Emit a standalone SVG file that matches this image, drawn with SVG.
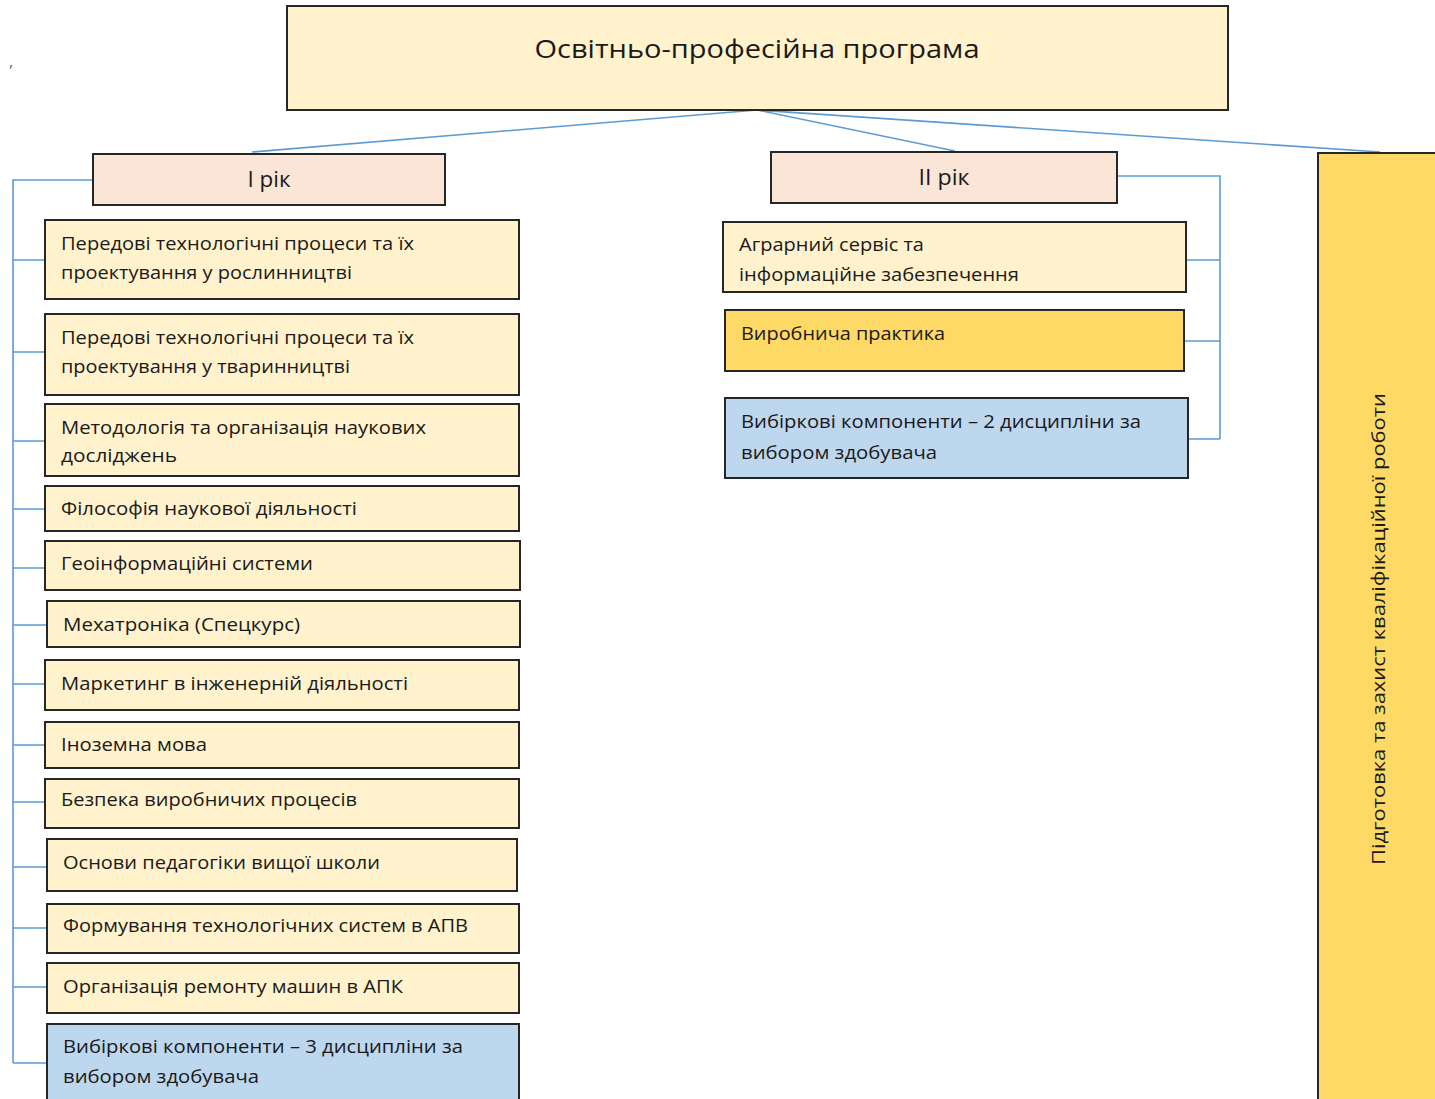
<svg xmlns="http://www.w3.org/2000/svg" width="1435" height="1099" viewBox="0 0 1435 1099">
<style>
.box{stroke:#262626;stroke-width:2}
.y{fill:#FFF2CC}.p{fill:#FBE5D6}.g{fill:#FFD966}.b{fill:#BDD7EE}
text{font-family:"Open Sans","Noto Sans","Liberation Sans",sans-serif;font-size:18px;fill:#1a1a1a}
.t{font-size:26px}
.yr{font-size:22px}
.c{fill:none;stroke:#5B9BD5;stroke-width:1.6}
</style>
<rect width="1435" height="1099" fill="#ffffff"/>
<text x="9" y="67" style="font-size:16px;fill:#8a6030">,</text>
<g id="connectors">
<path class="c" d="M757 110 L252 152 M757 110 L955 151 M757 110 L1380 152"/>
<path class="c" d="M93 180 H13 V1063 M13 260 H45 M13 352 H45 M13 441 H45 M13 509 H45 M13 568 H45 M13 625 H47 M13 684 H45 M13 745 H45 M13 802 H45 M13 867 H47 M13 928 H47 M13 987 H47 M13 1063 H47"/>
<path class="c" d="M1117 176 H1220 V439 M1186 260 H1220 M1184 341 H1220 M1188 439 H1220"/>
</g>
<g id="root"><rect class="box y" x="287" y="6" width="941" height="104"/><text class="t" x="757" y="58" text-anchor="middle" textLength="445" lengthAdjust="spacingAndGlyphs">Освітньо-професійна програма</text></g>
<g id="year1"><rect class="box p" x="93" y="154" width="352" height="51"/><text class="yr" x="269" y="187" text-anchor="middle" textLength="43" lengthAdjust="spacingAndGlyphs">І рік</text></g>
<g id="year2"><rect class="box p" x="771" y="152" width="346" height="51"/><text class="yr" x="944" y="185" text-anchor="middle" textLength="51" lengthAdjust="spacingAndGlyphs">ІІ рік</text></g>
<g id="thesis"><rect class="box g" x="1318" y="153" width="130" height="960"/><text transform="translate(1385 629) rotate(-90)" text-anchor="middle" textLength="472" lengthAdjust="spacingAndGlyphs">Підготовка та захист кваліфікаційної роботи</text></g>
<g id="n1"><rect class="box y" x="45" y="220" width="474" height="79"/><text x="61" y="250" textLength="353" lengthAdjust="spacingAndGlyphs">Передові технологічні процеси та їх</text><text x="61" y="279" textLength="291" lengthAdjust="spacingAndGlyphs">проектування у рослинництві</text></g>
<g id="n2"><rect class="box y" x="45" y="314" width="474" height="81"/><text x="61" y="344" textLength="353" lengthAdjust="spacingAndGlyphs">Передові технологічні процеси та їх</text><text x="61" y="373" textLength="289" lengthAdjust="spacingAndGlyphs">проектування у тваринництві</text></g>
<g id="n3"><rect class="box y" x="45" y="404" width="474" height="72"/><text x="61" y="434" textLength="365" lengthAdjust="spacingAndGlyphs">Методологія та організація наукових</text><text x="61" y="462" textLength="116" lengthAdjust="spacingAndGlyphs">досліджень</text></g>
<g id="n4"><rect class="box y" x="45" y="486" width="474" height="45"/><text x="61" y="515" textLength="296" lengthAdjust="spacingAndGlyphs">Філософія наукової діяльності</text></g>
<g id="n5"><rect class="box y" x="45" y="541" width="475" height="49"/><text x="61" y="570" textLength="252" lengthAdjust="spacingAndGlyphs">Геоінформаційні системи</text></g>
<g id="n6"><rect class="box y" x="47" y="601" width="473" height="46"/><text x="63" y="631" textLength="237" lengthAdjust="spacingAndGlyphs">Мехатроніка (Спецкурс)</text></g>
<g id="n7"><rect class="box y" x="45" y="660" width="474" height="50"/><text x="61" y="690" textLength="347" lengthAdjust="spacingAndGlyphs">Маркетинг в інженерній діяльності</text></g>
<g id="n8"><rect class="box y" x="45" y="722" width="474" height="46"/><text x="61" y="751" textLength="146" lengthAdjust="spacingAndGlyphs">Іноземна мова</text></g>
<g id="n9"><rect class="box y" x="45" y="779" width="474" height="49"/><text x="61" y="806" textLength="296" lengthAdjust="spacingAndGlyphs">Безпека виробничих процесів</text></g>
<g id="n10"><rect class="box y" x="47" y="839" width="470" height="52"/><text x="63" y="869" textLength="317" lengthAdjust="spacingAndGlyphs">Основи педагогіки вищої школи</text></g>
<g id="n11"><rect class="box y" x="47" y="904" width="472" height="49"/><text x="63" y="932" textLength="405" lengthAdjust="spacingAndGlyphs">Формування технологічних систем в АПВ</text></g>
<g id="n12"><rect class="box y" x="47" y="963" width="472" height="50"/><text x="63" y="993" textLength="340" lengthAdjust="spacingAndGlyphs">Організація ремонту машин в АПК</text></g>
<g id="n13"><rect class="box b" x="47" y="1024" width="472" height="90"/><text x="63" y="1053" textLength="400" lengthAdjust="spacingAndGlyphs">Вибіркові компоненти – 3 дисципліни за</text><text x="63" y="1083" textLength="196" lengthAdjust="spacingAndGlyphs">вибором здобувача</text></g>
<g id="r1"><rect class="box y" x="723" y="222" width="463" height="70"/><text x="739" y="251" textLength="185" lengthAdjust="spacingAndGlyphs">Аграрний сервіс та</text><text x="739" y="281" textLength="280" lengthAdjust="spacingAndGlyphs">інформаційне забезпечення</text></g>
<g id="r2"><rect class="box g" x="725" y="310" width="459" height="61"/><text x="741" y="340" textLength="204" lengthAdjust="spacingAndGlyphs">Виробнича практика</text></g>
<g id="r3"><rect class="box b" x="725" y="398" width="463" height="80"/><text x="741" y="428" textLength="400" lengthAdjust="spacingAndGlyphs">Вибіркові компоненти – 2 дисципліни за</text><text x="741" y="459" textLength="196" lengthAdjust="spacingAndGlyphs">вибором здобувача</text></g>
</svg>
